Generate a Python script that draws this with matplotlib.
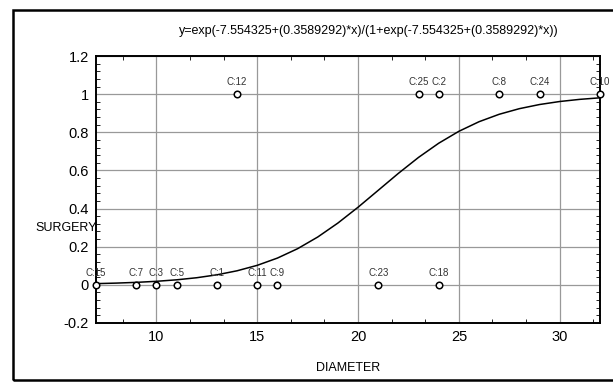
import numpy as np
import matplotlib
matplotlib.use("Agg")
from matplotlib import pyplot as plt
from matplotlib.patches import Rectangle
from matplotlib.ticker import AutoMinorLocator

plt.rcParams['font.family'] = ['Liberation Sans', 'DejaVu Sans']

# observed cases
case_labels = ['C:15', 'C:7', 'C:3', 'C:5', 'C:1', 'C:11', 'C:9', 'C:23', 'C:18',
               'C:12', 'C:25', 'C:2', 'C:8', 'C:24', 'C:10']
diameter = [7, 9, 10, 11, 13, 15, 16, 21, 24,
            14, 23, 24, 27, 29, 32]
surgery = [0, 0, 0, 0, 0, 0, 0, 0, 0,
           1, 1, 1, 1, 1, 1]

# fitted logistic model (from the title)
b0 = -7.554325
b1 = 0.3589292
title = "y=exp(-7.554325+(0.3589292)*x)/(1+exp(-7.554325+(0.3589292)*x))"

fig = plt.figure(figsize=(6.13, 3.82), dpi=100)
ax = fig.add_axes([96/613, 1-323/382, (600-96)/613, (323-56)/382])

xs = np.linspace(7, 32, 26)
ys = np.exp(b0 + b1*xs) / (1 + np.exp(b0 + b1*xs))
ax.plot(xs, ys, color='black', lw=1.1, zorder=3)

ax.scatter(diameter, surgery, s=22, facecolor='white', edgecolor='black',
           linewidth=1.1, zorder=4, clip_on=False)
for lab, x, y in zip(case_labels, diameter, surgery):
    ax.annotate(lab, (x, y), xytext=(0, 5), textcoords='offset points',
                ha='center', va='bottom', fontsize=7, color='#333333')

ax.set_xlim(7, 32)
ax.set_ylim(-0.2, 1.2)
ax.set_xticks([10, 15, 20, 25, 30])
ax.set_yticks([-0.2, 0, 0.2, 0.4, 0.6, 0.8, 1, 1.2])
ax.set_yticklabels(['-0.2', '0', '0.2', '0.4', '0.6', '0.8', '1', '1.2'])
ax.xaxis.set_minor_locator(AutoMinorLocator(3))
ax.yaxis.set_minor_locator(AutoMinorLocator(5))
ax.grid(True, which='major', color='#999999', lw=0.9)
ax.tick_params(which='both', direction='in', top=True, right=True,
               labelsize=10.5, color='black')
ax.tick_params(which='major', length=0, pad=5)
ax.tick_params(which='minor', length=3)
for s in ax.spines.values():
    s.set_linewidth(1.4)

ax.set_xlabel('DIAMETER', fontsize=9, labelpad=13)
fig.text(66/613, 1-228/382, 'SURGERY', fontsize=9, ha='center', va='center')
fig.text(369/613, 1-31/382, title, fontsize=9, ha='center', va='center')

fig.add_artist(Rectangle((13/613, 1-380/382), 1.0, (370)/382,
                         transform=fig.transFigure, fill=False,
                         edgecolor='black', lw=1.8))

fig.savefig('out.png', dpi=100)
